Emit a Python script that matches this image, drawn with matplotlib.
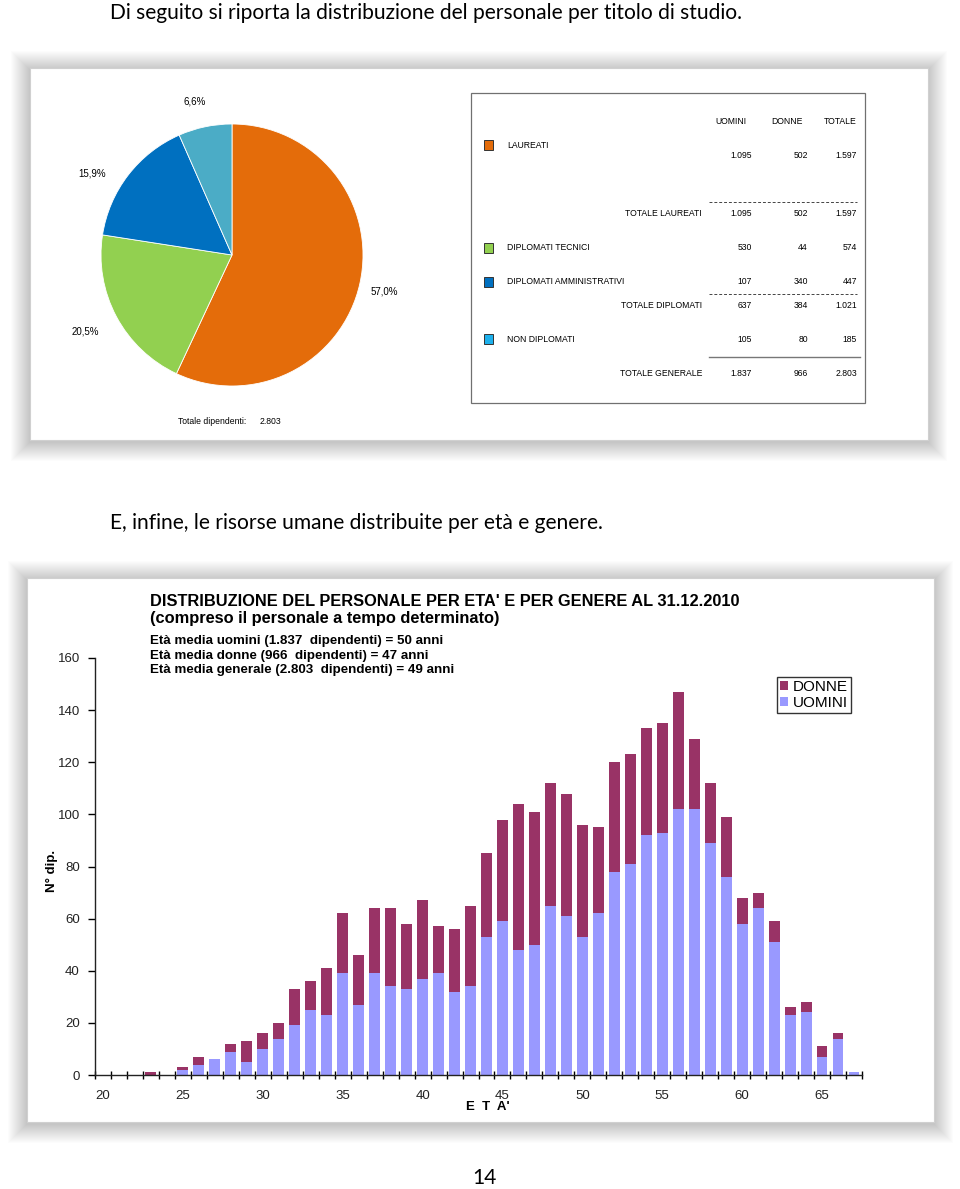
import matplotlib
matplotlib.use("Agg")
import matplotlib.pyplot as plt
from matplotlib.patches import Rectangle
import numpy as np

W, H = 960, 1189

# titolo di studio
study_labels = ["LAUREATI", "DIPLOMATI TECNICI", "DIPLOMATI AMMINISTRATIVI", "NON DIPLOMATI"]
study_uomini = [1095, 530, 107, 105]
study_donne = [502, 44, 340, 80]
study_totale = [1597, 574, 447, 185]
pie_colors = ["#E46C0A", "#92D050", "#0070C0", "#4BACC6"]
marker_colors = ["#E46C0A", "#92D050", "#0070C0", "#1CB0EC"]

# eta' e genere
ages = list(range(20, 68))
uomini = [0, 0, 0, 0, 0, 2, 4, 6, 9, 5, 10, 14, 19, 25, 23, 39, 27, 39, 34, 33,
          37, 39, 32, 34, 53, 59, 48, 50, 65, 61, 53, 62, 78, 81, 92, 93, 102, 102,
          89, 76, 58, 64, 51, 23, 24, 7, 14, 1]
donne = [0, 0, 0, 1, 0, 1, 3, 0, 3, 8, 6, 6, 14, 11, 18, 23, 19, 25, 30, 25,
         30, 18, 24, 31, 32, 39, 56, 51, 47, 47, 43, 33, 42, 42, 41, 42, 45, 27,
         23, 23, 10, 6, 8, 3, 4, 4, 2, 0]
yticks = list(range(0, 161, 20))
xticks = list(range(20, 66, 5))

TXT = "Lato"
ARIAL = "Liberation Sans"
TS = 6.2  # testo tabella


def px_axes(fig, x, y, w, h):
    return fig.add_axes([x / W, 1 - (y + h) / H, w / W, h / H])


def it(n):
    return f"{n:,}".replace(",", ".")


def framed(ax, x, y, w, h):
    # ombra morbida attorno all'immagine
    for k in range(1, 20):
        ax.add_patch(Rectangle((x - k, y - k + 2), w + 2 * k, h + 2 * k,
                               facecolor="black", edgecolor="none",
                               alpha=0.011, zorder=1))
    ax.add_patch(Rectangle((x, y), w, h, facecolor="white",
                           edgecolor="#d0d0d0", lw=0.8, zorder=2))


fig = plt.figure(figsize=(W / 100, H / 100), dpi=100)
bg = fig.add_axes([0, 0, 1, 1])
bg.set_xlim(0, W)
bg.set_ylim(H, 0)
bg.axis("off")

bg.text(110, 13, "Di seguito si riporta la distribuzione del personale per titolo di studio.",
        family=TXT, fontsize=15.1, va="center", ha="left")
bg.text(110, 523, "E, infine, le risorse umane distribuite per età e genere.",
        family=TXT, fontsize=15.1, va="center", ha="left")
bg.text(484, 1178, "14", family=TXT, fontsize=15.1, va="center", ha="center")

framed(bg, 30, 68, 898, 372)
framed(bg, 27, 578, 907, 544)

# ---- torta ----
pax = px_axes(fig, 101, 124, 262, 262)
pax.pie(study_totale, colors=pie_colors, startangle=90, counterclock=False,
        wedgeprops=dict(linewidth=0.6, edgecolor="white"))
pax.set_xlim(-1, 1)
pax.set_ylim(-1, 1)
pax.set_aspect("equal")
pct = [v / sum(study_totale) * 100 for v in study_totale]
pie_label_pos = [(384, 292), (85, 331), (92, 173), (195, 101)]
for p, (lx, ly) in zip(pct, pie_label_pos):
    bg.text(lx, ly, f"{p:.1f}%".replace(".", ","), family=ARIAL, fontsize=7,
            ha="center", va="center", zorder=5)
bg.text(178, 421, "Totale dipendenti:", family=ARIAL, fontsize=6.2, va="center", zorder=5)
bg.text(260, 421, it(sum(study_totale)), family=ARIAL, fontsize=6.2, va="center", zorder=5)

# ---- tabella ----
bg.add_patch(Rectangle((471, 93), 394, 310, facecolor="white", edgecolor="#707070",
                       lw=0.9, zorder=4))
col_x = [752, 808, 857]
bg.text(731, 121, "UOMINI", family=ARIAL, fontsize=TS, ha="center", va="center", zorder=5)
bg.text(787, 121, "DONNE", family=ARIAL, fontsize=TS, ha="center", va="center", zorder=5)
bg.text(857, 121, "TOTALE", family=ARIAL, fontsize=TS, ha="right", va="center", zorder=5)

row_y = [145, 248, 282, 339]
val_y = [156, 248, 282, 339]
for i, lab in enumerate(study_labels):
    bg.add_patch(Rectangle((484, row_y[i] - 5), 9, 10, facecolor=marker_colors[i],
                           edgecolor="#333333", lw=0.7, zorder=5))
    bg.text(507, row_y[i], lab, family=ARIAL, fontsize=TS, va="center", zorder=5)
    for cx, v in zip(col_x, [study_uomini[i], study_donne[i], study_totale[i]]):
        bg.text(cx, val_y[i], it(v), family=ARIAL, fontsize=TS, ha="right",
                va="center", zorder=5)


def total_row(y, name, idx):
    bg.text(702, y, name, family=ARIAL, fontsize=TS, ha="right", va="center", zorder=5)
    vals = [sum(study_uomini[j] for j in idx), sum(study_donne[j] for j in idx),
            sum(study_totale[j] for j in idx)]
    for cx, v in zip(col_x, vals):
        bg.text(cx, y, it(v), family=ARIAL, fontsize=TS, ha="right", va="center", zorder=5)


bg.plot([709, 857], [202, 202], color="#444444", lw=0.7, ls=(0, (3, 2)), zorder=5)
total_row(213, "TOTALE LAUREATI", [0])
bg.plot([709, 857], [294, 294], color="#444444", lw=0.7, ls=(0, (3, 2)), zorder=5)
total_row(305, "TOTALE DIPLOMATI", [1, 2])
bg.plot([709, 860], [357, 357], color="#777777", lw=1.0, zorder=5)
total_row(374, "TOTALE GENERALE", [0, 1, 2, 3])

# ---- grafico a barre ----
bg.text(150, 601, "DISTRIBUZIONE DEL PERSONALE PER ETA' E PER GENERE AL 31.12.2010",
        family=ARIAL, fontsize=11.8, weight="bold", va="center", zorder=5)
bg.text(150, 618, "(compreso il personale a tempo determinato)",
        family=ARIAL, fontsize=11.8, weight="bold", va="center", zorder=5)
info = ["Età media uomini (1.837  dipendenti) = 50 anni",
        "Età media donne (966  dipendenti) = 47 anni",
        "Età media generale (2.803  dipendenti) = 49 anni"]
for k, line in enumerate(info):
    bg.text(150, 641 + 14.5 * k, line, family=ARIAL, fontsize=9.6, weight="bold",
            va="center", zorder=5)

ax = px_axes(fig, 95, 658, 767, 417)
ax.set_zorder(6)
ax.patch.set_alpha(0)
x = np.array(ages)
ax.bar(x, uomini, width=0.68, color="#9999FF", label="UOMINI")
ax.bar(x, donne, width=0.68, bottom=uomini, color="#993366", label="DONNE")
ax.set_xlim(19.5, 67.5)
ax.set_ylim(0, 160)
ax.spines["top"].set_visible(False)
ax.spines["right"].set_visible(False)
for s in ("left", "bottom"):
    ax.spines[s].set_linewidth(1.0)
    ax.spines[s].set_color("#222222")
ax.set_yticks(yticks)
ax.tick_params(axis="y", direction="out", length=5, width=1, labelsize=9.5, pad=6,
               labelcolor="#222222")
ax.set_xticks(xticks)
ax.set_xticks(np.arange(19.5, 68, 1), minor=True)
ax.tick_params(axis="x", which="major", length=0, labelsize=9.5, pad=11,
               labelcolor="#222222")
ax.tick_params(axis="x", which="minor", direction="inout", length=6, width=1)
for lab in ax.get_xticklabels() + ax.get_yticklabels():
    lab.set_family(ARIAL)
ax.set_ylabel("N° dip.", family=ARIAL, fontsize=9.5, weight="bold", labelpad=-2)
ax.yaxis.set_label_coords(-0.048, 0.49)
ax.text(0.512, -0.076, "E  T  A'", transform=ax.transAxes, family=ARIAL, fontsize=9.5,
        weight="bold", ha="center", va="center")
h, l = ax.get_legend_handles_labels()
leg = ax.legend(h[::-1], l[::-1], loc="upper right", bbox_to_anchor=(0.986, 0.955),
                prop=dict(family=ARIAL, size=11), handlelength=0.55, handleheight=0.55,
                handletextpad=0.3, borderpad=0.2, labelspacing=0.12, fancybox=False,
                framealpha=1, edgecolor="#333333", borderaxespad=0)
leg.get_frame().set_linewidth(1.0)

fig.savefig("out.png", dpi=100, facecolor="white")
